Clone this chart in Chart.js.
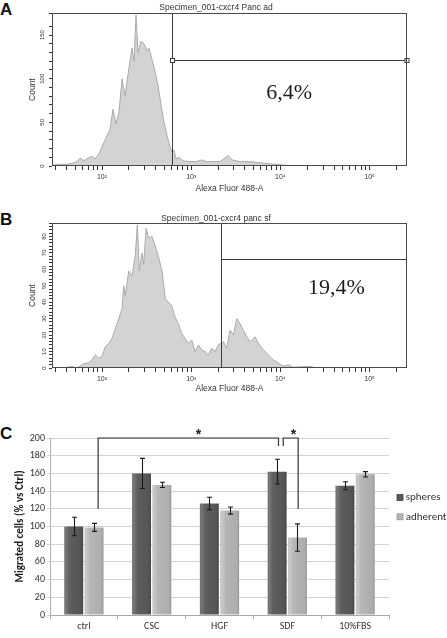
<!DOCTYPE html>
<html>
<head>
<meta charset="utf-8">
<script src="https://cdn.jsdelivr.net/npm/chart.js@4.4.1/dist/chart.umd.min.js"></script>
<style>
  html, body { margin: 0; padding: 0; background: #fff; }
  body { width: 447px; height: 638px; position: relative; overflow: hidden; }
  canvas { position: absolute; }
  .lbl { position: absolute; font: bold 17px "Liberation Sans", Arial, sans-serif; line-height: 17px; color: #111; }
</style>
</head>
<body>
<div class="lbl" style="left:0px; top:1px;">A</div>
<div class="lbl" style="left:0px; top:211px;">B</div>
<div class="lbl" style="left:0px; top:425px;">C</div>
<canvas id="histA" width="422" height="200" style="left:25px; top:0px;"></canvas>
<canvas id="histB" width="422" height="197" style="left:25px; top:205px;"></canvas>
<canvas id="bars" width="447" height="218" style="left:0px; top:420px;"></canvas>
<script>
// ---------------- DATA ----------------
// Panel A histogram (Alexa Fluor 488-A intensity, event count)
const histAX = [27.5, 33.8, 40.5, 46.1, 52.4, 56.7, 62.8, 69.7, 77.3, 83.5, 92.5, 102.6, 110.9, 122.9, 132.8, 143.5, 155.1, 167.6, 181.1, 200.8, 216.9, 228.4, 240.5, 253.3, 273.6, 295.8, 319.5, 336.5, 363.5, 392.9, 424.5, 458.6, 495.6, 535.5, 578.4, 609.2, 641.6, 675.5, 729.9, 809.5, 969.4, 1132, 1322, 1465, 1667, 2103, 2586, 2867, 3525, 4562, 5610, 6721, 8700, 11260, 14580];
const histACount = [1, 2, 2, 3, 5, 9, 6, 9, 11, 8, 14, 25, 32, 42, 65, 48, 62, 100, 80, 113, 135, 120, 173, 130, 143, 140, 132, 135, 122, 108, 92, 70, 50, 35, 22, 16, 18, 8, 10, 6, 5, 5, 7, 5, 5, 5, 12, 7, 5, 5, 4, 3, 2, 1, 0];
// Panel B histogram
const histBX = [27.5, 35.6, 46.1, 52.4, 59.7, 65, 70.9, 77.3, 84.1, 91.8, 100, 108.9, 118.9, 129.5, 141, 153.9, 167.6, 175.1, 182.5, 199.2, 216.9, 236.2, 248.7, 261.9, 280.7, 293.4, 311.4, 333.9, 363.5, 395.8, 432.3, 470.7, 512.4, 559.4, 604.5, 658.2, 716.9, 782.6, 852.1, 928.1, 1013, 1103, 1201, 1311, 1428, 1555, 1698, 1849, 2013, 2291, 2500, 2723, 2965, 3237, 3525, 3839, 4191, 4562, 5191, 5653, 6433, 7316, 8326, 9474, 10780, 12260, 13950, 21470, 25530];
const histBCount = [0, 0, 1, 0, 2, 3, 3, 5, 8, 6, 7, 13, 15, 18, 24, 30, 36, 50, 44, 59, 56, 69, 87, 59, 70, 63, 85, 79, 80, 74, 67, 59, 42, 40, 38, 31, 27, 21, 18, 15, 17, 10, 14, 11, 10, 8, 12, 10, 14, 16, 12, 23, 20, 30, 27, 23, 19, 16, 19, 15, 11, 8, 5, 3, 1, 2, 0.5, 1, 0];
const histTitles = ['Specimen_001-cxcr4 Panc ad', 'Specimen_001-cxcr4 panc sf'];
const histYMax = [175, 88];
const gateX = [609, 2158];          // gate start (intensity)
const gateY = [121, 66];            // gate marker level (count)
const gatePct = ['6,4%', '19,4%'];
const pctPosX = [12500, 42500];
const pctPosY = [83, 48.5];
const decadeLabels = {100: '10\u00B2', 1000: '10\u00B3', 10000: '10\u2074', 100000: '10\u2075'};

// Panel C bar chart
const categories = ['ctrl', 'CSC', 'HGF', 'SDF', '10%FBS'];
const spheres = [100, 160, 126, 162, 146];
const spheresErr = [10.5, 17, 7, 14, 4.5];
const adherent = [99, 147, 118, 87.5, 159];
const adherentErr = [4.5, 3, 4, 15.5, 3];
const yTicksC = [0, 20, 40, 60, 80, 100, 120, 140, 160, 180, 200];
// significance brackets (x in category units, y in % units)
const bracketX = [[0.21, 2.87], [2.94, 3.16]];
const bracketY = [[120, 200, 191], [191, 200, 120]];
const starX = [1.69, 3.09];

// ---------------- HISTOGRAMS ----------------
const logTicks = [];
for (let e = 1; e <= 5; e++) {
  for (let m = 1; m <= 9; m++) {
    const v = m * Math.pow(10, e);
    if (v >= 27.5 && v <= 262144) logTicks.push(v);
  }
}

const gatePlugin = {
  id: 'gate',
  afterDatasetsDraw(chart, args, g) {
    const {ctx, chartArea: a, scales: {x, y}} = chart;
    ctx.save();
    ctx.strokeStyle = '#3c3c3c';
    ctx.lineWidth = 1;
    const gx = Math.round(x.getPixelForValue(g.gx)) + 0.5;
    const gy = Math.round(y.getPixelForValue(g.gy)) + 0.5;
    ctx.beginPath();
    ctx.moveTo(gx, a.top); ctx.lineTo(gx, a.bottom);
    ctx.moveTo(gx, gy); ctx.lineTo(a.right, gy);
    ctx.stroke();
    if (g.markers) {
      ctx.fillStyle = '#fff';
      [gx, a.right].forEach(px => {
        ctx.fillRect(px - 2, gy - 2, 4, 4);
        ctx.strokeRect(px - 2, gy - 2, 4, 4);
      });
    }
    // frame
    ctx.strokeStyle = '#4a4a4a';
    ctx.strokeRect(Math.round(a.left) + 0.5, Math.round(a.top) + 0.5, Math.round(a.width) - 1, Math.round(a.height) - 1);
    // percentage
    ctx.fillStyle = '#1e1e1e';
    ctx.font = '22px "Liberation Serif", "Times New Roman", serif';
    ctx.textAlign = 'center';
    ctx.textBaseline = 'middle';
    ctx.fillText(g.label, x.getPixelForValue(g.lx), y.getPixelForValue(g.ly));
    ctx.restore();
  }
};

function makeHist(id, idx, xs, ys, cfg) {
  const pts = xs.map((v, i) => ({x: v, y: ys[i]}));
  return new Chart(document.getElementById(id), {
    type: 'line',
    data: {datasets: [{
      data: pts,
      fill: 'origin',
      backgroundColor: '#d3d3d3',
      borderColor: '#ababab',
      borderWidth: 1,
      pointRadius: 0,
      tension: 0
    }]},
    options: {
      responsive: false,
      animation: false,
      events: [],
      layout: {padding: {left: 0, right: 40, top: 0, bottom: 0}},
      plugins: {
        legend: {display: false},
        tooltip: {enabled: false},
        title: {
          display: true,
          text: histTitles[idx],
          color: '#333',
          font: {family: '"Liberation Sans", Arial, sans-serif', size: 8.5, weight: 'normal', lineHeight: 1},
          padding: {top: cfg.titleTop, bottom: cfg.titleBottom}
        },
        gate: {gx: gateX[idx], gy: gateY[idx], label: gatePct[idx], lx: pctPosX[idx], ly: pctPosY[idx], markers: cfg.markers}
      },
      scales: {
        x: {
          type: 'logarithmic',
          min: 27.5,
          max: 262144,
          afterBuildTicks: s => { s.ticks = logTicks.map(v => ({value: v})); },
          afterFit: s => { s.height = 34; },
          border: {display: false},
          grid: {drawOnChartArea: false, drawTicks: true, tickLength: 4, color: '#333'},
          ticks: {
            autoSkip: false, maxRotation: 0, minRotation: 0, padding: 2.5,
            color: '#333',
            font: {family: '"Liberation Sans", Arial, sans-serif', size: 7},
            callback: v => decadeLabels[v] || ''
          },
          title: {
            display: true, text: 'Alexa Fluor 488-A', color: '#333',
            font: {family: '"Liberation Sans", Arial, sans-serif', size: 8.5, lineHeight: 1},
            padding: {top: 0, bottom: cfg.xTitleBottom}
          }
        },
        y: {
          min: 0,
          max: histYMax[idx],
          afterFit: s => { s.width = 27; },
          border: {display: false},
          grid: {drawOnChartArea: false, drawTicks: true, tickLength: 3, color: '#333'},
          ticks: {
            stepSize: cfg.step, autoSkip: false, minRotation: 90, maxRotation: 90,
            crossAlign: 'center', padding: 1.5,
            color: '#333',
            font: {family: '"Liberation Sans", Arial, sans-serif', size: 6},
            callback: v => (v % cfg.labelEvery === 0 ? String(v) : '')
          },
          title: {
            display: true, text: 'Count', color: '#333',
            font: {family: '"Liberation Sans", Arial, sans-serif', size: 8.5, lineHeight: 1},
            padding: {top: 3.75, bottom: 0}
          }
        }
      }
    },
    plugins: [gatePlugin]
  });
}

makeHist('histA', 0, histAX, histACount, {titleTop: 3.75, titleBottom: 1, xTitleBottom: 7.45, step: 10, labelEvery: 50, markers: true});
makeHist('histB', 1, histBX, histBCount, {titleTop: 9.75, titleBottom: 0, xTitleBottom: 9.25, step: 2, labelEvery: 10, markers: false});

// ---------------- BAR CHART ----------------
const fontC = 'Carlito, Lato, "Liberation Sans", sans-serif';
const CAT_PCT = 0.6;

function barFill(stops, flat) {
  return (ctx) => {
    const chart = ctx.chart;
    const xs = chart.scales && chart.scales.x;
    if (!chart.chartArea || !xs || ctx.type !== 'data') return flat;
    const c = xs.getPixelForValue(ctx.dataIndex);
    const cw = xs.width / chart.data.labels.length * CAT_PCT;
    const left = c - cw / 2 + ctx.datasetIndex * cw / 2;
    const g = chart.ctx.createLinearGradient(left, 0, left + cw / 2, 0);
    stops.forEach(s => g.addColorStop(s[0], s[1]));
    return g;
  };
}

const errPlugin = {
  id: 'errbars',
  afterDatasetsDraw(chart) {
    const {ctx, scales: {x, y}} = chart;
    const errs = [spheresErr, adherentErr];
    ctx.save();
    ctx.strokeStyle = '#1a1a1a';
    ctx.lineWidth = 1.1;
    chart.data.datasets.forEach((ds, di) => {
      chart.getDatasetMeta(di).data.forEach((el, i) => {
        const v = ds.data[i], e = errs[di][i];
        const px = Math.round(el.x) + 0.5;
        const t = y.getPixelForValue(v + e), b = y.getPixelForValue(v - e);
        ctx.beginPath();
        ctx.moveTo(px, t); ctx.lineTo(px, b);
        ctx.moveTo(px - 2.5, t); ctx.lineTo(px + 2.5, t);
        ctx.moveTo(px - 2.5, b); ctx.lineTo(px + 2.5, b);
        ctx.stroke();
      });
    });
    // significance brackets
    ctx.strokeStyle = '#333';
    ctx.lineWidth = 1.2;
    bracketX.forEach((bx, k) => {
      const x1 = x.getPixelForValue(bx[0]), x2 = x.getPixelForValue(bx[1]);
      const by = bracketY[k];
      ctx.beginPath();
      ctx.moveTo(x1, y.getPixelForValue(by[0]));
      ctx.lineTo(x1, y.getPixelForValue(by[1]));
      ctx.lineTo(x2, y.getPixelForValue(by[1]));
      ctx.lineTo(x2, y.getPixelForValue(by[2]));
      ctx.stroke();
      ctx.fillStyle = '#222';
      ctx.font = 'bold 14px "Liberation Sans", Arial, sans-serif';
      ctx.textAlign = 'center';
      ctx.textBaseline = 'alphabetic';
      ctx.fillText('*', x.getPixelForValue(starX[k]), y.getPixelForValue(198.5));
    });
    ctx.restore();
  },
  afterDraw(chart) {
    const {ctx, chartArea: a} = chart;
    const sw = ['#5a5a5a', '#b4b4b4'];
    ctx.save();
    chart.data.datasets.forEach((ds, i) => {
      const yy = a.top + 59.5 + i * 19.3;
      ctx.fillStyle = sw[i];
      ctx.fillRect(a.right + 8, yy - 3, 6, 6);
      ctx.strokeStyle = i === 0 ? '#444' : '#999';
      ctx.lineWidth = 0.8;
      ctx.strokeRect(a.right + 8, yy - 3, 6, 6);
      ctx.fillStyle = '#333';
      ctx.font = '11px ' + fontC;
      ctx.textAlign = 'left';
      ctx.textBaseline = 'middle';
      ctx.fillText(ds.label, a.right + 16.7, yy);
    });
    ctx.restore();
  }
};

new Chart(document.getElementById('bars'), {
  type: 'bar',
  data: {
    labels: categories,
    datasets: [
      {label: 'spheres', data: spheres,
       backgroundColor: barFill([[0, '#6a6a6a'], [0.12, '#777'], [0.3, '#5e5e5e'], [0.85, '#555'], [1, '#404040']], '#5a5a5a'),
       borderWidth: 0, categoryPercentage: CAT_PCT, barPercentage: 0.93},
      {label: 'adherent', data: adherent,
       backgroundColor: barFill([[0, '#bdbdbd'], [0.12, '#c9c9c9'], [0.3, '#b6b6b6'], [0.85, '#adadad'], [1, '#919191']], '#b4b4b4'),
       borderWidth: 0, categoryPercentage: CAT_PCT, barPercentage: 0.93}
    ]
  },
  options: {
    responsive: false,
    animation: false,
    events: [],
    layout: {padding: {left: 0, right: 58, top: 18, bottom: 0}},
    plugins: {legend: {display: false}, tooltip: {enabled: false}},
    scales: {
      x: {
        afterFit: s => { s.height = 23; },
        border: {color: '#a8a8a8'},
        grid: {drawOnChartArea: false, offset: true, tickLength: 4, color: '#a8a8a8'},
        ticks: {color: '#333', padding: 1, font: {family: fontC, size: 10}}
      },
      y: {
        min: 0, max: 200,
        afterFit: s => { s.width = 50; },
        afterBuildTicks: s => { s.ticks = yTicksC.map(v => ({value: v})); },
        border: {color: '#b0b0b0'},
        grid: {color: '#d2d2d2', tickLength: 3},
        ticks: {color: '#333', padding: 2, font: {family: fontC, size: 10}},
        title: {
          display: true, text: 'Migrated cells (% vs Ctrl)', color: '#222',
          font: {family: fontC, size: 11, weight: 'bold', lineHeight: 1},
          padding: {top: 15, bottom: 0}
        }
      }
    }
  },
  plugins: [errPlugin]
});
</script>
</body>
</html>
